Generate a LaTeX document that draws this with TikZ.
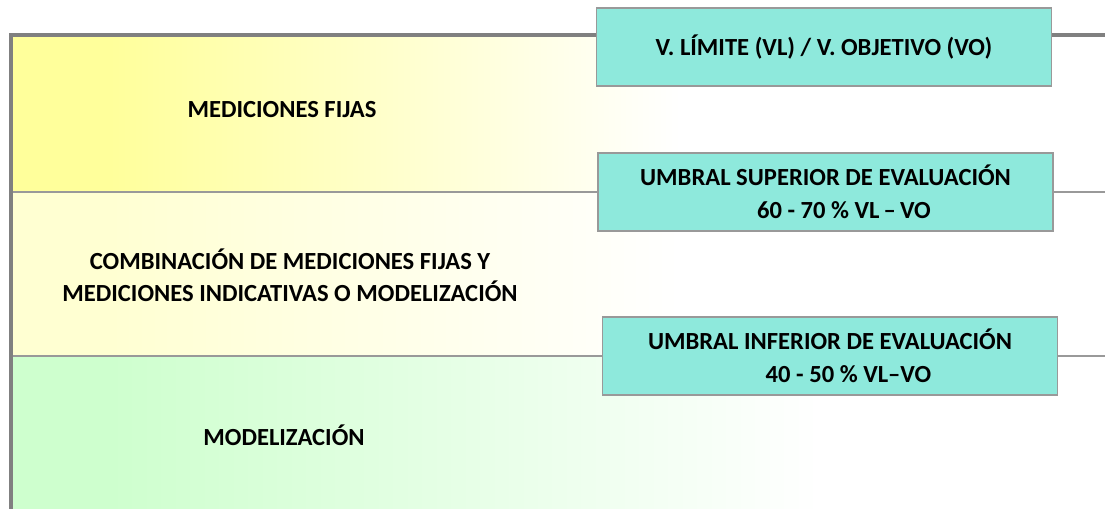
\documentclass[tikz,border=0pt]{standalone}
\usepackage{fontspec}
\setmainfont{Carlito}
\definecolor{umbralfill}{RGB}{142,233,220}
\definecolor{fijas}{RGB}{255,255,155}
\definecolor{combi}{RGB}{255,255,210}
\definecolor{model}{RGB}{206,255,206}
\tikzset{
  umbral/.style = {draw=black!40, fill=umbralfill, line width=0.8pt,
                   minimum width=9.1cm, minimum height=1.56cm,
                   align=center, inner sep=0pt,
                   font=\bfseries\fontsize{14}{19}\selectfont},
  rotulo/.style = {align=center, font=\bfseries\fontsize{14}{18}\selectfont},
  borde/.style = {draw=black!50, line width=2.3pt},
  divisor/.style = {draw=black!40, line width=1.1pt},
}
\begin{document}
\begin{tikzpicture}[x=0.02cm, y=-0.02cm]
\useasboundingbox (0,0) rectangle (1105,509);
% bandas
\fill[fijas] (11,35) rectangle (110,192);
\shade[left color=fijas, right color=white] (110,35) rectangle (680,192);
\fill[combi] (11,192) rectangle (110,356);
\shade[left color=combi, right color=white] (110,192) rectangle (680,356);
\fill[model] (11,356) rectangle (110,509);
\shade[left color=model, right color=white] (110,356) rectangle (820,509);
% umbrales
\node[umbral] (vl) at (824,47) {V. LÍMITE (VL) / V. OBJETIVO (VO)};
\node[umbral] (us) at (825.5,192) {UMBRAL SUPERIOR DE EVALUACIÓN\\ \hspace{1.5em}60 - 70 \% VL\,–\,VO};
\node[umbral] (ui) at (830,356) {UMBRAL INFERIOR DE EVALUACIÓN\\ \hspace{1.5em}40 - 50 \% VL–VO};
% rotulos
\node[rotulo] (mf) at (282,110) {MEDICIONES FIJAS};
\node[rotulo] (cm) at (290,275) {COMBINACIÓN DE MEDICIONES FIJAS Y\\MEDICIONES INDICATIVAS O MODELIZACIÓN};
\node[rotulo] (mo) at (284,435) {MODELIZACIÓN};
% lineas
\coordinate (esq) at (11,35);
\coordinate (pie) at (11,509);
\coordinate (fin) at (1105,35);
\draw[divisor] (esq |- us) -- (us.west);
\draw[divisor] (us.east) -- (fin |- us);
\draw[divisor] (esq |- ui) -- (ui.west);
\draw[divisor] (ui.east) -- (fin |- ui);
\draw[borde] (pie) -- (esq) -- (vl.west |- esq);
\draw[borde] (vl.east |- esq) -- (fin);
\end{tikzpicture}
\end{document}
